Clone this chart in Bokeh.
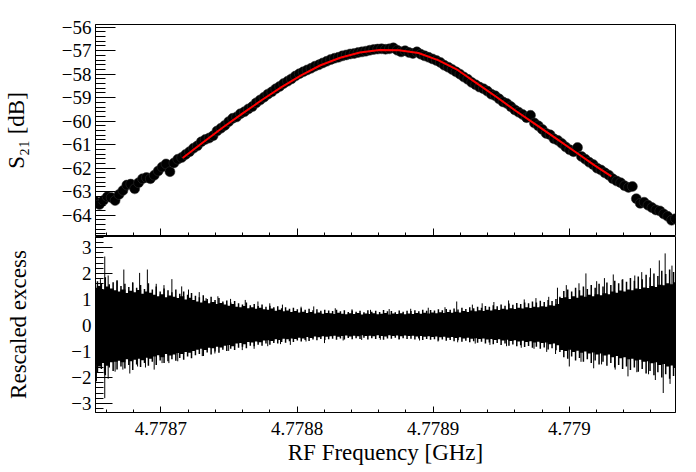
import numpy as np
from bokeh.plotting import figure
from bokeh.layouts import column
from bokeh.models import FixedTicker, CustomJSTickFormatter, Range1d
from bokeh.embed import file_html
from bokeh.resources import INLINE

# ---------------- data ----------------
FREQ_START = 4.778652   # GHz, first sweep point
FREQ_STOP = 4.779078    # GHz, last sweep point

# measured S21 [dB] along the sweep (equally spaced in frequency)
S21_DB = [
    -63.42, -63.55, -63.38, -63.22, -63.25, -63.38, -63.12, -62.95, -62.72, -62.68,
    -62.88, -62.62, -62.45, -62.40, -62.45, -62.30, -62.12, -61.95, -61.82, -62.15,
    -61.78, -61.62, -61.55, -61.42, -61.30, -61.15, -61.05, -60.88, -60.78, -60.72,
    -60.62, -60.42, -60.30, -60.18, -60.02, -59.88, -59.82, -59.68, -59.60, -59.48,
    -59.38, -59.22, -59.10, -58.98, -58.85, -58.75, -58.62, -58.52, -58.40, -58.30,
    -58.20, -58.08, -57.98, -57.90, -57.82, -57.75, -57.66, -57.60, -57.52, -57.45,
    -57.38, -57.32, -57.28, -57.22, -57.18, -57.14, -57.12, -57.08, -57.05, -57.02,
    -56.98, -56.95, -56.93, -56.92, -56.94, -56.92, -56.88, -56.98, -57.05, -57.00,
    -57.08, -57.12, -57.05, -57.15, -57.22, -57.28, -57.35, -57.42, -57.50, -57.62,
    -57.70, -57.80, -57.90, -58.00, -58.12, -58.22, -58.35, -58.45, -58.55, -58.62,
    -58.72, -58.85, -58.92, -59.05, -59.18, -59.25, -59.38, -59.52, -59.62, -59.72,
    -59.85, -59.75, -60.08, -60.20, -60.35, -60.52, -60.58, -60.75, -60.82, -60.95,
    -61.10, -61.22, -61.30, -61.12, -61.50, -61.62, -61.75, -61.85, -62.00, -62.08,
    -62.20, -62.30, -62.45, -62.55, -62.62, -62.75, -62.82, -62.78, -63.30, -63.50,
    -63.45, -63.58, -63.68, -63.78, -63.82, -63.95, -64.05, -64.22, -64.15,
]

# fitted curve (red)
FIT_FREQ = [4.778716, 4.7787311, 4.7787455, 4.7787598, 4.7787742, 4.7787886,
            4.778803, 4.7788173, 4.7788317, 4.7788461, 4.7788605, 4.7788749,
            4.7788892, 4.7789036, 4.778918, 4.7789324, 4.7789468, 4.7789611,
            4.7789755, 4.7789899, 4.7790043, 4.7790186, 4.7790309]
FIT_DB = [-61.57, -60.90, -60.27, -59.68, -59.10, -58.55, -58.05, -57.62, -57.30,
          -57.08, -56.97, -56.98, -57.10, -57.40, -57.82, -58.40, -58.98, -59.58,
          -60.15, -60.72, -61.30, -61.88, -62.35]

# rescaled excess: dense core of the residual bars, one bar per sweep point
RES_HI = [
    1.45, 1.52, 1.38, 1.50, 1.42, 1.35, 1.30, 1.38, 1.25, 1.33,
    1.28, 1.36, 1.22, 1.30, 1.26, 1.18, 1.12, 1.20, 1.08, 1.15,
    1.10, 1.05, 1.12, 1.00, 1.06, 0.98, 0.92, 0.88, 0.95, 0.85,
    0.90, 0.82, 0.86, 0.80, 0.76, 0.82, 0.72, 0.70, 0.75, 0.66,
    0.70, 0.64, 0.68, 0.62, 0.60, 0.65, 0.56, 0.60, 0.54, 0.57,
    0.52, 0.55, 0.50, 0.53, 0.48, 0.52, 0.46, 0.50, 0.45, 0.48,
    0.47, 0.44, 0.49, 0.45, 0.43, 0.47, 0.44, 0.48, 0.42, 0.46,
    0.44, 0.47, 0.43, 0.45, 0.48, 0.42, 0.46, 0.44, 0.47, 0.43,
    0.46, 0.44, 0.48, 0.45, 0.49, 0.46, 0.50, 0.47, 0.51, 0.48,
    0.52, 0.49, 0.53, 0.50, 0.55, 0.52, 0.57, 0.54, 0.58, 0.55,
    0.60, 0.57, 0.62, 0.59, 0.64, 0.61, 0.66, 0.63, 0.68, 0.65,
    0.70, 0.67, 0.72, 0.70, 0.74, 0.72, 0.78, 0.76, 0.82, 1.05,
    1.08, 1.02, 1.12, 1.06, 1.15, 1.10, 1.18, 1.12, 1.20, 1.16,
    1.24, 1.20, 1.30, 1.26, 1.34, 1.30, 1.38, 1.35, 1.42, 1.40,
    1.46, 1.44, 1.52, 1.48, 1.56, 1.54, 1.62, 1.58, 1.66,
]
RES_LO = [
    -1.50, -1.58, -1.45, -1.55, -1.42, -1.40, -1.36, -1.42, -1.30, -1.38,
    -1.32, -1.28, -1.34, -1.24, -1.28, -1.20, -1.15, -1.22, -1.10, -1.16,
    -1.12, -1.06, -1.10, -1.02, -1.05, -0.98, -0.94, -0.90, -0.95, -0.86,
    -0.88, -0.82, -0.85, -0.78, -0.75, -0.80, -0.70, -0.68, -0.72, -0.64,
    -0.66, -0.62, -0.65, -0.58, -0.57, -0.60, -0.53, -0.56, -0.51, -0.53,
    -0.50, -0.52, -0.47, -0.50, -0.45, -0.48, -0.43, -0.46, -0.42, -0.44,
    -0.42, -0.40, -0.44, -0.41, -0.39, -0.43, -0.40, -0.42, -0.38, -0.41,
    -0.40, -0.42, -0.38, -0.41, -0.43, -0.38, -0.41, -0.39, -0.42, -0.39,
    -0.41, -0.40, -0.43, -0.41, -0.44, -0.42, -0.45, -0.43, -0.46, -0.44,
    -0.47, -0.45, -0.48, -0.46, -0.50, -0.47, -0.51, -0.49, -0.52, -0.50,
    -0.54, -0.52, -0.56, -0.53, -0.58, -0.55, -0.60, -0.57, -0.62, -0.59,
    -0.64, -0.61, -0.66, -0.63, -0.68, -0.66, -0.72, -0.70, -0.76, -0.95,
    -0.98, -0.94, -1.02, -0.97, -1.05, -1.00, -1.08, -1.04, -1.12, -1.08,
    -1.16, -1.12, -1.22, -1.18, -1.26, -1.22, -1.30, -1.28, -1.35, -1.32,
    -1.40, -1.38, -1.46, -1.42, -1.52, -1.48, -1.58, -1.54, -1.64,
]
# residual bars between neighbouring sweep points (thin lines)
MID_HI = [
    1.70, 1.62, 1.85, 1.58, 1.66, 1.74, 1.52, 1.60, 1.48, 1.65,
    1.45, 1.55, 1.40, 1.62, 1.38, 1.50, 1.30, 1.42, 1.35, 1.28,
    1.38, 1.22, 1.30, 1.18, 1.25, 1.14, 1.08, 1.16, 1.02, 1.10,
    0.98, 1.05, 0.92, 0.96, 0.88, 0.94, 0.85, 0.80, 0.88, 0.78,
    0.82, 0.75, 0.80, 0.72, 0.76, 0.70, 0.74, 0.66, 0.70, 0.64,
    0.68, 0.62, 0.66, 0.60, 0.64, 0.58, 0.62, 0.56, 0.60, 0.57,
    0.55, 0.60, 0.54, 0.58, 0.52, 0.57, 0.53, 0.56, 0.51, 0.58,
    0.53, 0.56, 0.52, 0.59, 0.54, 0.55, 0.51, 0.57, 0.53, 0.56,
    0.55, 0.58, 0.54, 0.60, 0.56, 0.59, 0.57, 0.62, 0.58, 0.63,
    0.60, 0.65, 0.61, 0.68, 0.63, 0.70, 0.66, 0.72, 0.68, 0.75,
    0.72, 0.78, 0.74, 0.80, 0.76, 0.84, 0.79, 0.86, 0.82, 0.88,
    0.85, 0.92, 0.88, 0.95, 0.90, 0.98, 0.94, 1.02, 1.10, 1.32,
    1.38, 1.30, 1.45, 1.35, 1.50, 1.40, 1.55, 1.45, 1.60, 1.50,
    1.65, 1.55, 1.72, 1.62, 1.78, 1.68, 1.82, 1.72, 1.88, 1.78,
    1.95, 1.85, 2.00, 1.90, 2.10, 1.98, 2.15, 2.05,
]
MID_LO = [
    -1.80, -1.68, -1.92, -1.62, -1.75, -1.70, -1.58, -1.66, -1.52, -1.72,
    -1.50, -1.60, -1.45, -1.55, -1.40, -1.52, -1.35, -1.45, -1.38, -1.30,
    -1.36, -1.25, -1.32, -1.20, -1.26, -1.15, -1.10, -1.18, -1.04, -1.12,
    -1.00, -1.05, -0.94, -0.98, -0.90, -0.95, -0.86, -0.82, -0.88, -0.78,
    -0.80, -0.74, -0.78, -0.70, -0.74, -0.68, -0.70, -0.64, -0.67, -0.61,
    -0.64, -0.58, -0.62, -0.56, -0.60, -0.54, -0.57, -0.52, -0.56, -0.53,
    -0.51, -0.55, -0.50, -0.54, -0.48, -0.53, -0.49, -0.52, -0.47, -0.54,
    -0.49, -0.52, -0.48, -0.55, -0.50, -0.51, -0.47, -0.53, -0.49, -0.52,
    -0.51, -0.54, -0.50, -0.56, -0.52, -0.55, -0.53, -0.58, -0.54, -0.59,
    -0.56, -0.61, -0.57, -0.63, -0.59, -0.65, -0.61, -0.67, -0.63, -0.70,
    -0.66, -0.72, -0.68, -0.75, -0.70, -0.78, -0.73, -0.80, -0.76, -0.83,
    -0.79, -0.86, -0.82, -0.90, -0.85, -0.93, -0.88, -0.96, -1.02, -1.22,
    -1.28, -1.20, -1.35, -1.25, -1.40, -1.30, -1.45, -1.35, -1.50, -1.40,
    -1.55, -1.45, -1.62, -1.52, -1.68, -1.58, -1.72, -1.62, -1.78, -1.68,
    -1.85, -1.75, -1.92, -1.80, -2.00, -1.88, -2.05, -1.95,
]

# individual large residuals (spikes)
SPIKE_UP_FREQ = [4.7786556, 4.7786613, 4.7786678, 4.7786728, 4.7786793, 4.7786844,
                 4.7786901, 4.7786966, 4.7787023, 4.7787081, 4.7787153, 4.7787203,
                 4.7787282, 4.7787332, 4.7787419, 4.7787512, 4.778762, 4.7787713,
                 4.77878, 4.7787893, 4.778803, 4.7788123, 4.7788281, 4.7788404,
                 4.778854, 4.7788677, 4.7788835, 4.7788964, 4.7789087, 4.7789173,
                 4.7789288, 4.778936, 4.7789446, 4.7789554, 4.7789669, 4.7789755,
                 4.7789849, 4.7789913, 4.7789978, 4.7790071, 4.7790122, 4.7790201,
                 4.7790258, 4.7790323, 4.7790388, 4.7790481, 4.7790532, 4.7790596,
                 4.7790661, 4.7790704, 4.7790754]
SPIKE_UP = [1.78, 1.92, 1.70, 2.15, 1.65, 2.02, 2.15, 1.60, 1.55, 1.78, 1.50, 1.38,
            1.28, 1.05, 1.12, 1.02, 0.98, 0.92, 0.85, 0.80, 0.72, 0.73, 0.66, 0.62,
            0.60, 0.63, 0.64, 0.68, 0.70, 0.92, 0.80, 0.85, 0.90, 0.96, 1.00, 1.05,
            1.10, 1.45, 1.55, 1.62, 2.00, 1.70, 1.82, 1.96, 1.75, 1.92, 2.05, 2.20,
            2.50, 2.77, 2.30]
SPIKE_DN_FREQ = [4.7786527, 4.7786585, 4.7786613, 4.7786664, 4.7786721, 4.7786772,
                 4.7786829, 4.7786887, 4.7786951, 4.7787009, 4.7787059, 4.7787124,
                 4.7787225, 4.7787304, 4.7787397, 4.7787498, 4.7787598, 4.7787685,
                 4.7787785, 4.7787879, 4.7787951, 4.7788066, 4.7788202, 4.7788339,
                 4.7788475, 4.7788612, 4.7788749, 4.77889, 4.7789036, 4.778918,
                 4.7789309, 4.7789417, 4.7789539, 4.7789647, 4.7789741, 4.7789834,
                 4.7789899, 4.779, 4.7790086, 4.7790179, 4.7790237, 4.7790337,
                 4.7790431, 4.7790496, 4.7790582, 4.7790632, 4.779069, 4.779074]
SPIKE_DN = [-2.15, -1.85, -2.05, -1.78, -1.70, -1.85, -1.58, -1.62, -1.70, -1.45,
            -1.45, -1.38, -1.25, -1.18, -1.08, -0.98, -0.95, -0.90, -0.80, -0.72,
            -0.75, -0.62, -0.68, -0.58, -0.56, -0.55, -0.54, -0.58, -0.62, -0.65,
            -0.70, -0.75, -0.80, -0.86, -0.90, -1.02, -1.10, -1.58, -1.40, -1.65,
            -1.50, -1.70, -1.96, -1.80, -1.88, -2.10, -2.60, -2.25]

# one wide error bar near the start of the sweep
WIDE_FREQ = [4.7786588]
WIDE_HI = [2.65]
WIDE_LO = [-2.80]

X_MAJOR = [4.7787, 4.7788, 4.7789, 4.779]
S21_MAJOR = [-64, -63, -62, -61, -60, -59, -58, -57, -56]
RES_MAJOR = [-3, -2, -1, 0, 1, 2, 3]

S21_RANGE = (-64.91, -55.885)
RES_RANGE = (-3.35, 3.42)

# ---------------- plotting ----------------
FONT = "'Liberation Serif'"

freq = np.linspace(FREQ_START, FREQ_STOP, len(S21_DB))
step = (FREQ_STOP - FREQ_START) / (len(S21_DB) - 1)
mid_freq = freq[:-1] + step / 2

x_minor = list(np.round(np.arange(4.77866, 4.77908 + 1e-9, 0.00002), 7))
s21_minor = list(np.round(np.arange(-64.8, -55.8, 0.2), 3))
res_minor = list(np.round(np.arange(-3.2, 3.41, 0.2), 3))

yfmt = CustomJSTickFormatter(code="""
var s = (Math.round(tick*1000)/1000).toString();
return tick < 0 ? "\\u2212" + s.substring(1) : s;
""")
xfmt = CustomJSTickFormatter(code="return (Math.round(tick*1e7)/1e7).toString();")


def base_style(p):
    p.grid.visible = False
    p.outline_line_color = "black"
    p.outline_line_width = 1
    p.background_fill_color = "white"
    p.border_fill_color = "white"
    for ax in (p.xaxis[0], p.yaxis[0]):
        ax.axis_line_color = "black"
        ax.major_tick_line_color = "black"
        ax.minor_tick_line_color = "black"
        ax.major_tick_out = 0
        ax.minor_tick_out = 0
        ax.major_label_text_font = FONT
        ax.major_label_text_font_size = "19px"
        ax.major_label_text_color = "black"
        ax.axis_label_text_font = FONT
        ax.axis_label_text_font_size = "23px"
        ax.axis_label_text_font_style = "normal"
        ax.axis_label_text_color = "black"


xr = Range1d(FREQ_START, FREQ_STOP)

p1 = figure(width=680, height=236, x_range=xr, y_range=Range1d(*S21_RANGE),
            output_backend="svg", toolbar_location=None,
            min_border_left=82, min_border_right=5, min_border_top=24,
            min_border_bottom=0)
base_style(p1)
p1.scatter(freq, S21_DB, size=10, marker="circle", fill_color="black",
           line_color="#333333", line_width=0.5)
p1.line(FIT_FREQ, FIT_DB, line_color="red", line_width=2)

p1.yaxis[0].ticker = FixedTicker(ticks=S21_MAJOR, minor_ticks=s21_minor)
p1.yaxis[0].formatter = yfmt
p1.yaxis[0].major_tick_in = 20
p1.yaxis[0].minor_tick_in = 10
p1.yaxis[0].major_label_standoff = 4
p1.yaxis[0].axis_label = "S\u2082\u2081 [dB]"
p1.yaxis[0].axis_label_standoff = 30

p1.xaxis[0].ticker = FixedTicker(ticks=X_MAJOR, minor_ticks=x_minor)
p1.xaxis[0].major_tick_in = 8
p1.xaxis[0].minor_tick_in = 4
p1.xaxis[0].major_label_text_font_size = "0px"
p1.xaxis[0].major_label_standoff = 0
p1.xaxis[0].formatter = CustomJSTickFormatter(code="return '';")

p2 = figure(width=680, height=236, x_range=xr, y_range=Range1d(*RES_RANGE),
            output_backend="svg", toolbar_location=None,
            min_border_left=82, min_border_right=5, min_border_top=0,
            min_border_bottom=60)
base_style(p2)
p2.vbar(x=freq, bottom=RES_LO, top=RES_HI, width=step * 1.3,
        fill_color="black", line_color=None)
p2.segment(x0=mid_freq, y0=MID_LO, x1=mid_freq, y1=MID_HI,
           line_color="black", line_width=1.5)
p2.segment(x0=SPIKE_UP_FREQ, y0=[0] * len(SPIKE_UP), x1=SPIKE_UP_FREQ, y1=SPIKE_UP,
           line_color="black", line_width=1)
p2.segment(x0=SPIKE_DN_FREQ, y0=[0] * len(SPIKE_DN), x1=SPIKE_DN_FREQ, y1=SPIKE_DN,
           line_color="black", line_width=1)
p2.segment(x0=WIDE_FREQ, y0=WIDE_LO, x1=WIDE_FREQ, y1=WIDE_HI,
           line_color="black", line_width=1)

p2.yaxis[0].ticker = FixedTicker(ticks=RES_MAJOR, minor_ticks=res_minor)
p2.yaxis[0].formatter = yfmt
p2.yaxis[0].major_tick_in = 17
p2.yaxis[0].minor_tick_in = 8
p2.yaxis[0].major_label_standoff = 4
p2.yaxis[0].axis_label = "Rescaled excess"
p2.yaxis[0].axis_label_standoff = 37

p2.xaxis[0].ticker = FixedTicker(ticks=X_MAJOR, minor_ticks=x_minor)
p2.xaxis[0].formatter = xfmt
p2.xaxis[0].major_tick_in = 6
p2.xaxis[0].minor_tick_in = 3
p2.xaxis[0].major_label_standoff = 9
p2.xaxis[0].axis_label = "RF Frequency [GHz]"
p2.xaxis[0].axis_label_standoff = 2

layout = column(p1, p2, spacing=0)
open("out.html", "w").write(file_html(layout, INLINE))
